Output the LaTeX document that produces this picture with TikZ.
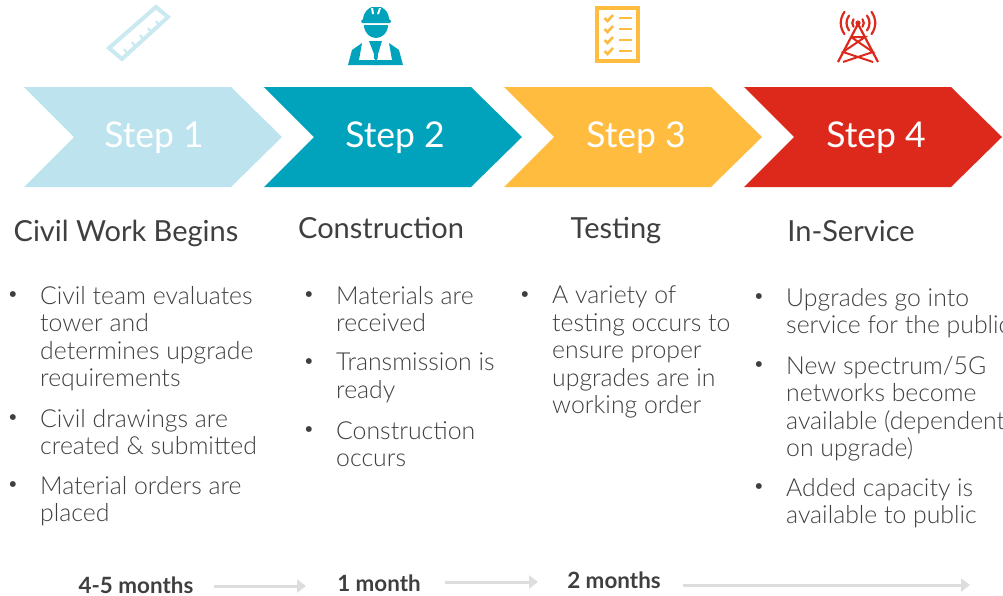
\documentclass[tikz,border=0pt]{standalone}
\usepackage{fontspec}
\setmainfont{Lato}[UprightFont=* Light,BoldFont=* Bold]
\newfontfamily\headfont{Lato}
\definecolor{palestep}{HTML}{BDE4EE}
\definecolor{tealstep}{HTML}{00A3BB}
\definecolor{goldstep}{HTML}{FFBC3F}
\definecolor{redstep}{HTML}{DD291B}
\definecolor{inkgray}{HTML}{3F3F3F}
\definecolor{arrowgray}{HTML}{DDDDDD}
\tikzset{
  steplabel/.style={text=white,font=\headfont\fontsize{35.5}{40}\selectfont},
  headline/.style={text=inkgray,font=\headfont\fontsize{29}{34}\selectfont},
  listitem/.style={anchor=north west,inner sep=0pt,align=left,text=inkgray,font=\fontsize{24.8}{27.4}\selectfont},
  bulletmark/.style={inner sep=0pt,text=inkgray,font=\fontsize{20}{24}\selectfont},
  timelabel/.style={text=inkgray,font=\bfseries\fontsize{22.4}{26}\selectfont},
  timearrow/.style={draw=arrowgray,line width=3pt,-{Triangle[length=9pt,width=13pt]}}
}
\usetikzlibrary{arrows.meta}
\begin{document}
\begin{tikzpicture}[x=1pt,y=-1pt]
  \useasboundingbox (0,0) rectangle (1003,595);
  % chevrons
  \foreach \x/\c/\n/\xs in {0/palestep/1/154,240/tealstep/2/395,480/goldstep/3/636,720/redstep/4/876} {
    \fill[\c] (\x+24,87) -- (\x+231,87) -- (\x+282,137) -- (\x+231,187) -- (\x+24,187) -- (\x+74,137) -- cycle;
    \node[steplabel] (step\n) at (\xs,138) {Step \n};
  }
  % headings
  \foreach \x/\y/\n/\t in {126/233/civil/Civil Work Begins,381/228/build/Construction,616/231/test/Testing,851/231/live/In-Service} {
    \node[headline] (head\n) at (\x,\y) {\t};
  }
  % lists
  \foreach \x/\y/\t [count=\i] in {
    40/295/{Civil team evaluates\\tower and\\determines upgrade\\requirements},
    40/418/{Civil drawings are\\created \& submitted},
    40/485/{Material orders are\\placed},
    336/295/{Materials are\\received},
    336/362/{Transmission is\\ready},
    336/430/{Construction\\occurs},
    552/295/{A variety of\\testing occurs to\\ensure proper\\upgrades are in\\working order},
    786/297/{Upgrades go into\\service for the public},
    786/365/{New spectrum/5G\\networks become\\available (dependent\\on upgrade)},
    786/487/{Added capacity is\\available to public}} {
    \node[bulletmark] (dot\i) at (\x-27,\y+1.5) {\textbullet};
    \node[listitem] (item\i) at (\x,\y-9) {\t};
  }
  % durations
  \node[timelabel] (time1) at (136,585) {4-5 months};
  \node[timelabel] (time2) at (379,583) {1 month};
  \node[timelabel] (time3) at (614,580) {2 months};
  \coordinate (end1) at (306,586);
  \coordinate (end2) at (538,582);
  \coordinate (start3) at (683,585);
  \coordinate (end3) at (970,585);
  \draw[timearrow,shorten <=17pt] (time1.east |- end1) -- (end1);
  \draw[timearrow,shorten <=21pt] (time2.east |- end2) -- (end2);
  \draw[timearrow] (start3) -- (end3);
  % ruler
  \draw[palestep!80,line width=4pt,line join=miter] (156,7) -- (168,17) -- (122,59) -- (109,48) -- cycle;
  \foreach \x/\y in {124/49,132/42,140/35,148/28,156/21} {
    \draw[palestep!80,line width=2.2pt] (\x,\y) -- (\x+3,\y+4);
  }
  % worker
  \fill[tealstep] (361,21) -- (363,19) .. controls (364,11) and (369,8) .. (372,7) -- (381,7) .. controls (385,9) and (389,13) .. (389,19) -- (391,21) -- (390,23) -- (362,23) -- cycle;
  \fill[white] (371,8) -- (373,8) -- (374,14) -- (372,14) -- cycle;
  \fill[white] (379,8) -- (381,8) -- (379,14) -- (377,14) -- cycle;
  \fill[tealstep] (364,25) -- (388,25) .. controls (388,33) and (382,38) .. (376,38) .. controls (370,38) and (364,33) .. (364,25) -- cycle;
  \fill[tealstep] (348,65) -- (352,50) -- (362,43) -- (359,60) -- (392,60) -- (389,43) -- (399,50) -- (403,65) -- cycle;
  \fill[tealstep] (369,41) -- (382,41) -- (378,54) -- (377,65) -- (374.5,65) -- (374,54) -- cycle;
  \fill[white] (359,58.5) -- (374.5,58.5) -- (374.5,60) -- (359,60) -- cycle;
  \fill[white] (377,58.5) -- (392,58.5) -- (392,60) -- (377,60) -- cycle;
  % checklist
  \draw[goldstep,line width=4.5pt] (597,8) rectangle (638,61);
  \foreach \y in {18,29,40,51} {
    \draw[goldstep,line width=2.6pt] (604.5,\y) -- (607.5,\y+3) -- (613,\y-3);
    \draw[goldstep,line width=2.2pt] (619,\y) -- (632,\y);
  }
  % tower
  \draw[redstep,line width=2.2pt] (838,62) -- (858,24) -- (878,62);
  \draw[redstep,line width=2pt] (851,37) -- (865,37) -- (843,52) -- (873,62) (843,62) -- (873,52) -- (851,37);
  \fill[redstep] (858,23) circle (2.6pt);
  \foreach \r in {6,12,18} {
    \draw[redstep,line width=2.2pt,line cap=round] (858-\r*.75,23-\r*.62) to[bend right=35] (858-\r*.75,23+\r*.62);
    \draw[redstep,line width=2.2pt,line cap=round] (858+\r*.75,23-\r*.62) to[bend left=35] (858+\r*.75,23+\r*.62);
  }
\end{tikzpicture}
\end{document}
